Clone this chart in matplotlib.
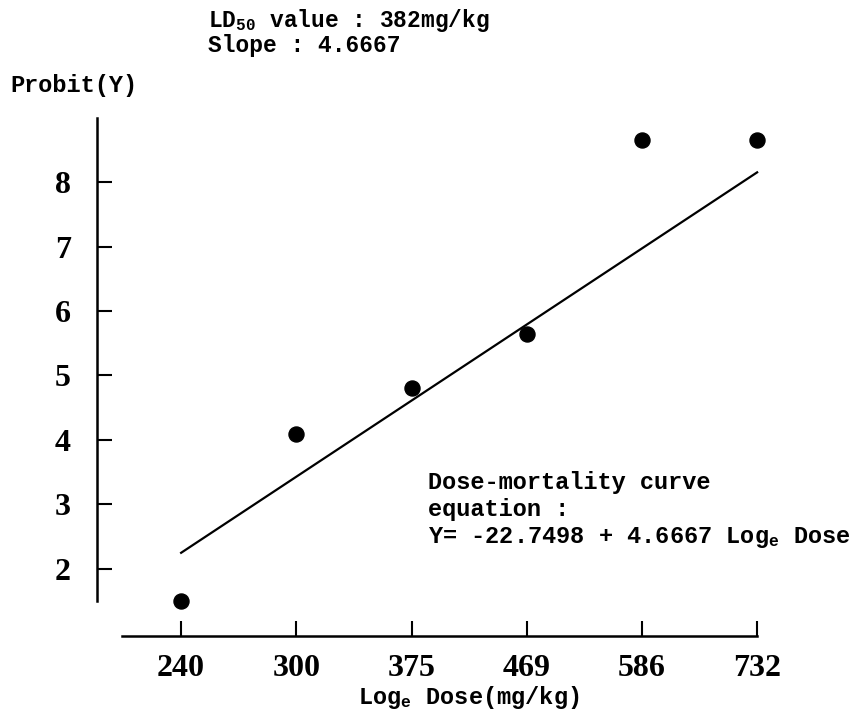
import matplotlib
matplotlib.use("Agg")
import matplotlib.pyplot as plt

# Probit analysis: dose (mg/kg) vs probit value
doses = ["240", "300", "375", "469", "586", "732"]
probits = [1.5, 4.1, 4.8, 5.65, 8.65, 8.65]
fit_x = [0, 5]            # regression line drawn from first to last dose
fit_y = [2.25, 8.15]
y_ticks = [2, 3, 4, 5, 6, 7, 8]

plt.rcParams['font.family'] = ['Liberation Mono', 'DejaVu Sans']
plt.rcParams['font.weight'] = 'bold'
plt.rcParams['mathtext.default'] = 'regular'

fig = plt.figure(figsize=(8.64, 7.2), dpi=100)
ax = fig.add_axes([0.1123, 0.1167, 0.804, 0.729])

xpos = list(range(len(doses)))
ax.scatter(xpos, probits, s=117, color='black', zorder=3)
ax.plot(fit_x, fit_y, color='black', lw=1.6)

ax.set_xlim(-0.73, 5.3)
ax.set_ylim(0.96, 9.1)

for s in ['top', 'right']:
    ax.spines[s].set_visible(False)
ax.spines['left'].set_bounds(1.5, 9.0)
ax.spines['bottom'].set_bounds(-0.51, 5)
ax.spines['left'].set_linewidth(1.8)
ax.spines['bottom'].set_linewidth(1.8)

ax.set_xticks(xpos)
ax.set_xticklabels(doses)
ax.set_yticks(y_ticks)
ax.tick_params(axis='both', direction='in', length=10.8, width=1.5)
ax.tick_params(axis='y', pad=19)
ax.tick_params(axis='x', pad=13)
for lab in ax.get_xticklabels() + ax.get_yticklabels():
    lab.set_family(['Liberation Serif', 'DejaVu Serif'])
    lab.set_fontsize(23)
    lab.set_weight('bold')

fig.text(0.543, 0.022, 'Log$_e$ Dose(mg/kg)', ha='center', va='baseline', fontsize=17)
fig.text(0.012, 0.872, 'Probit(Y)', ha='left', va='baseline', fontsize=17)
fig.text(0.241, 0.962, 'LD$_{50}$ value : 382mg/kg', ha='left', va='baseline', fontsize=16.5)
fig.text(0.241, 0.928, 'Slope : 4.6667', ha='left', va='baseline', fontsize=16.5)

fig.text(0.495, 0.246, 'Dose-mortality curve\nequation :\nY= -22.7498 + 4.6667 Log$_e$ Dose',
         ha='left', va='baseline', fontsize=17, linespacing=1.22)

fig.savefig('out.png', dpi=100)
